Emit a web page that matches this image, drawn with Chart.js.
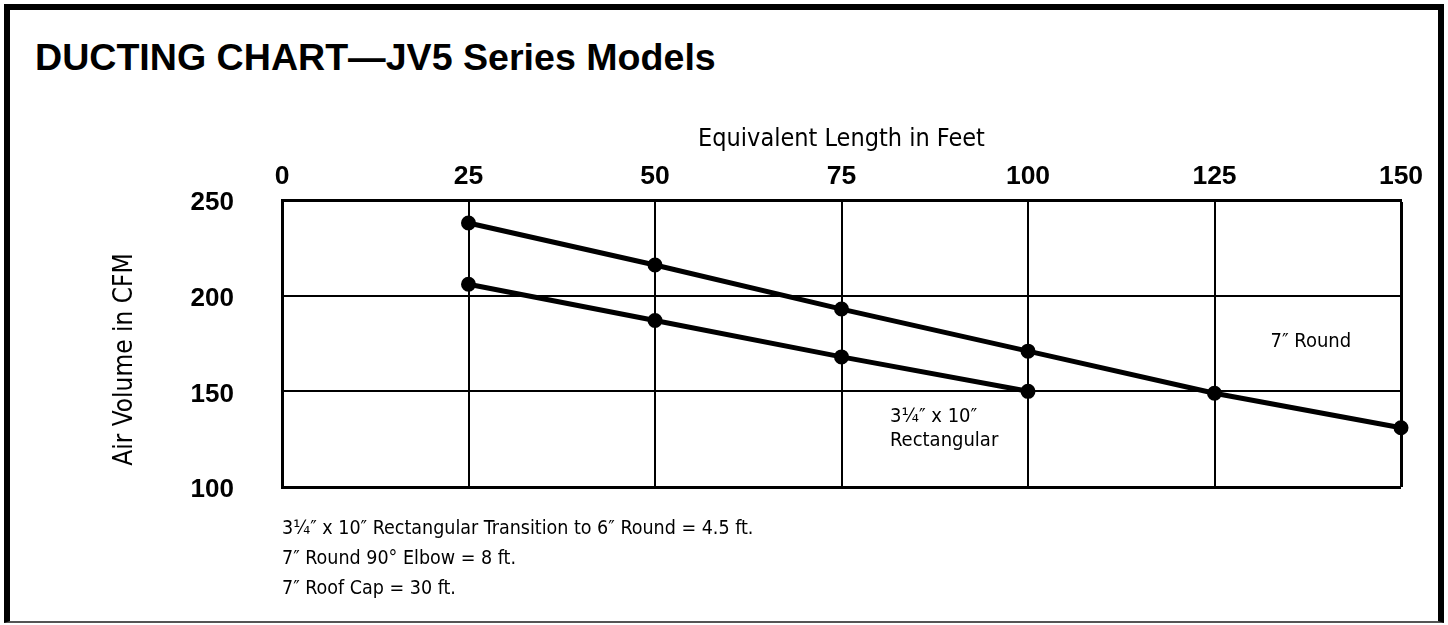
<!DOCTYPE html>
<html>
<head>
<meta charset="utf-8">
<script src="https://cdn.jsdelivr.net/npm/chart.js@4.4.1/dist/chart.umd.min.js"></script>
<style>
  html, body { margin: 0; padding: 0; background: #fff; }
  #wrap { position: relative; width: 1448px; height: 625px; overflow: hidden; }
  #frame {
    position: absolute; left: 4px; top: 4px; width: 1428px; height: 611px;
    border-top: 6px solid #000; border-left: 6px solid #000; border-right: 6px solid #000;
    border-bottom: 2px solid #555;
  }
  #title {
    position: absolute; left: 35px; top: 36px;
    font: bold 37.6px "Liberation Sans", Arial, sans-serif; color: #000; white-space: nowrap;
  }
  #notes {
    position: absolute; left: 282px; top: 513px;
    font: 19.5px "Liberation Sans Narrow", "DejaVu Sans Condensed", sans-serif; color: #000;
    line-height: 30px;
  }
  canvas { position: absolute; left: 0; top: 0; }
</style>
</head>
<body>
<div id="wrap">
  <div id="frame"></div>
  <div id="title">DUCTING CHART—JV5 Series Models</div>
  <canvas id="chart" width="1448" height="625"></canvas>
  <div id="notes">
    <div>3¼″ x 10″ Rectangular Transition to 6″ Round = 4.5 ft.</div>
    <div>7″ Round 90° Elbow = 8 ft.</div>
    <div>7″ Roof Cap = 30 ft.</div>
  </div>
</div>
<script>
// equivalent length (ft) on x, air volume (CFM) on y
const roundLengths = [25, 50, 75, 100, 125, 150];
const roundCfm = [238, 216, 193, 171, 149, 131];
const rectLengths = [25, 50, 75, 100];
const rectCfm = [206, 187, 168, 150];
const xTicks = [0, 25, 50, 75, 100, 125, 150];
const yTicks = [100, 150, 200, 250];

const narrow = '"Liberation Sans Narrow", "DejaVu Sans Condensed", sans-serif';
const boldFace = '"Liberation Sans", Arial, sans-serif';

// curve labels, placed in data units
const curveLabels = [
  { lines: ['7″ Round'], x: 132.5, y: 176 },
  { lines: ['3¼″ x 10″', 'Rectangular'], x: 81.5, y: 136.5 }
];

const labelPlugin = {
  id: 'curveLabels',
  afterDatasetsDraw(chart) {
    const { ctx, scales, chartArea } = chart;
    ctx.save();
    ctx.fillStyle = '#000';
    ctx.font = '20px ' + narrow;
    ctx.textAlign = 'left';
    ctx.textBaseline = 'middle';
    curveLabels.forEach(l => {
      const px = scales.x.getPixelForValue(l.x);
      const py = scales.y.getPixelForValue(l.y);
      l.lines.forEach((t, i) => ctx.fillText(t, px, py + i * 24));
    });
    // y axis title, sits a little below the middle of the plot
    ctx.font = '26px ' + narrow;
    ctx.textAlign = 'center';
    ctx.translate(chartArea.left - 157, (chartArea.top + chartArea.bottom) / 2 + 16);
    ctx.rotate(-Math.PI / 2);
    ctx.fillText('Air Volume in CFM', 0, 0);
    ctx.restore();
  }
};

const edgeWidth = (ctx, max) => (ctx.tick && ctx.tick.value === max) ? 3 : 2;

new Chart(document.getElementById('chart'), {
  type: 'line',
  data: {
    datasets: [
      {
        label: '7″ Round',
        data: roundLengths.map((x, i) => ({ x: x, y: roundCfm[i] })),
        borderColor: '#000', backgroundColor: '#000',
        borderWidth: 5, pointRadius: 5, pointHoverRadius: 5, tension: 0, clip: 10
      },
      {
        label: '3¼″ x 10″ Rectangular',
        data: rectLengths.map((x, i) => ({ x: x, y: rectCfm[i] })),
        borderColor: '#000', backgroundColor: '#000',
        borderWidth: 5, pointRadius: 5, pointHoverRadius: 5, tension: 0, clip: 10
      }
    ]
  },
  options: {
    responsive: false,
    animation: false,
    layout: { padding: { top: 100, right: 47, bottom: 138, left: 0 } },
    plugins: { legend: { display: false }, tooltip: { enabled: false } },
    scales: {
      x: {
        type: 'linear', position: 'top', min: 0, max: 150,
        afterBuildTicks: s => { s.ticks = xTicks.map(v => ({ value: v })); },
        afterFit: s => { s.height = 100; },
        ticks: { color: '#000', padding: 7, font: { family: boldFace, weight: 'bold', size: 26.5 } },
        grid: { color: '#000', lineWidth: c => edgeWidth(c, 150), drawTicks: false },
        border: { color: '#000', width: 3 },
        title: {
          display: true, text: 'Equivalent Length in Feet', color: '#000',
          font: { family: narrow, size: 25 }, padding: { top: 24 }
        }
      },
      y: {
        type: 'linear', min: 100, max: 250,
        afterBuildTicks: s => { s.ticks = yTicks.map(v => ({ value: v })); },
        afterFit: s => { s.width = 282; },
        ticks: { color: '#000', padding: 48, labelOffset: 3, font: { family: boldFace, weight: 'bold', size: 26 } },
        grid: { color: '#000', lineWidth: c => edgeWidth(c, 100), drawTicks: false },
        border: { color: '#000', width: 3 }
      }
    }
  },
  plugins: [labelPlugin]
});
</script>
</body>
</html>
